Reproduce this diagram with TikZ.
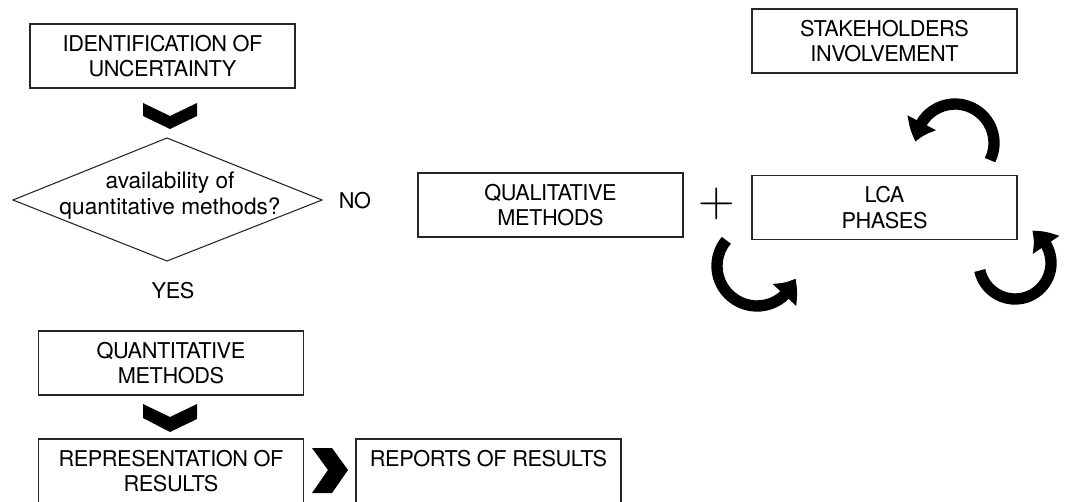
\documentclass[tikz,border=0pt]{standalone}
\usepackage{fontspec}
\setmainfont{TeX Gyre Heros}[LetterSpace=-2]
\newfontfamily\plainfont{TeX Gyre Heros}
\newfontfamily\lmfont{Latin Modern Roman}
\usetikzlibrary{arrows.meta,bending}
\newcommand\boxfont{\fontsize{16.3}{19.3}\selectfont}
\newcommand\askfont{\fontsize{17}{19.3}\selectfont\plainfont}
\begin{document}
\begin{tikzpicture}[x=0.75pt,y=-0.75pt,
  box/.style={draw=black!85, line width=0.8pt, minimum width=198.75pt,
    minimum height=48pt, inner sep=0pt, align=center, font=\boxfont},
  lbl/.style={font=\boxfont, align=center, inner sep=0pt},
  chev/.style={fill=black, draw=none},
  loop/.style={line width=8.5pt, -{Triangle[width=23pt,length=15pt,bend]}}]
\useasboundingbox (0,0) rectangle (1069,502);

% left column: decision flow
\node[box] (ident) at (162.5,56) {IDENTIFICATION OF\\UNCERTAINTY};
\fill[chev, shift={(170,103)}] (-27,0) -- (0,13) -- (27,0) -- (27,13) -- (0,26) -- (-27,13) -- cycle;

\coordinate (dl) at (13,200);
\coordinate (dt) at (167,138);
\coordinate (dr) at (322,200);
\coordinate (db) at (167,261);
\draw[black!85, line width=0.8pt] (dl) -- (dt) -- (dr) -- (db) -- cycle;
\node[lbl, font=\askfont] (avail) at (170,196) {availability of\\quantitative methods?};
\node[lbl] (no) at (355,201) {NO};
\node[lbl] (yes) at (173,291) {YES};

\node[box] (quant) at (171,363) {QUANTITATIVE\\METHODS};
\fill[chev, shift={(170,404)}] (-27,0) -- (0,13) -- (27,0) -- (27,15) -- (0,28) -- (-27,14) -- cycle;
\node[box] (repr) at (171,471) {REPRESENTATION OF\\RESULTS};
\fill[chev, shift={(312,448)}] (0,0) -- (20,0) -- (36,22) -- (20,45) -- (0,45) -- (16,22) -- cycle;
\node[box] (reports) at (488.5,471) {REPORTS OF RESULTS\\\mbox{}};

% right part: qualitative branch and LCA cycle
\node[box] (qual) at (550.5,205) {QUALITATIVE\\METHODS};
\node[inner sep=0pt] (plus) at (717,204) {\lmfont\fontsize{38}{38}\selectfont +};
\node[box] (lca) at (884.5,207.5) {LCA\\PHASES};
\node[box] (stake) at (884.5,41) {STAKEHOLDERS\\INVOLVEMENT};

\draw[loop] (955,143) ++(26:39) arc[start angle=26, end angle=-178, radius=39];
\draw[loop] (757,266) ++(-140:40) arc[start angle=-140, end angle=-342, radius=40];
\draw[loop] (1015,263) ++(168:36) arc[start angle=168, end angle=-62, radius=36];
\end{tikzpicture}
\end{document}
